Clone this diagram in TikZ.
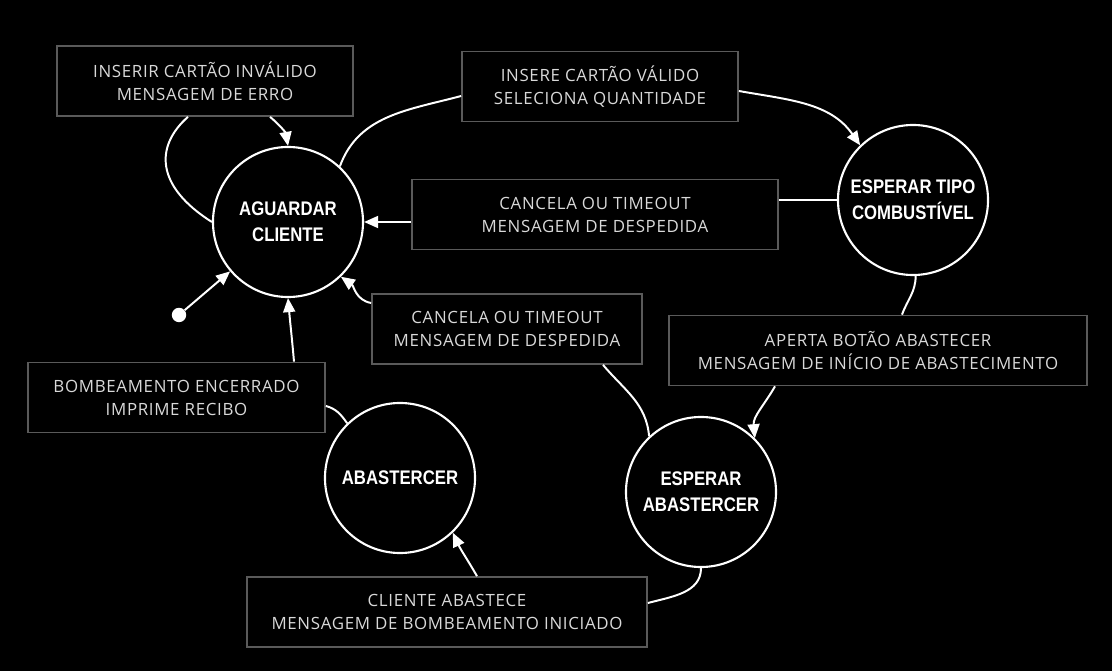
\documentclass[tikz,border=0pt]{standalone}
\usepackage{fontspec}
\setmainfont[LetterSpace=4]{Open Sans}
\newfontfamily\statefont[FakeStretch=0.85]{Liberation Sans}
\usetikzlibrary{calc,arrows.meta}
\definecolor{boxline}{HTML}{5A5A5A}
\definecolor{boxtext}{HTML}{D9D9D9}

\begin{document}
\begin{tikzpicture}[x=0.025cm,y=0.025cm,
    state/.style={circle,draw=white,line width=1.5pt,minimum size=3.75cm,inner sep=0pt,
      align=center,text=white,font=\statefont\bfseries\fontsize{14}{18.5}\selectfont},
    event/.style={rectangle,draw=boxline,line width=1.2pt,minimum height=1.75cm,inner sep=0pt,
      align=center,text=boxtext,font=\fontsize{12}{16.4}\selectfont},
    link/.style={draw=white,line width=1.4pt},
    arr/.style={link,-{Triangle[length=10pt,width=8.5pt]}}]

        % page, black
        \fill[black] (0,0) rectangle (1112,671);
        \useasboundingbox (0,0) rectangle (1112,671);

        % states
        \node[state] (ag) at (288,449) {AGUARDAR\\CLIENTE};
        \node[state] (esptipo) at (913,471) {ESPERAR TIPO\\COMBUSTÍVEL};
        \node[state] (abast) at (400,193) {ABASTERCER};
        \node[state] (espab) at (701,179) {ESPERAR\\ABASTERCER};
        \node[circle,fill=white,minimum size=0.36cm,inner sep=0pt] (start) at (179,356) {};

        % events
        \node[event,minimum width=7.4cm] (err) at (205,590) {INSERIR CARTÃO INVÁLIDO\\MENSAGEM DE ERRO};
        \node[event,minimum width=6.9cm] (valid) at (600,584.5) {INSERE CARTÃO VÁLIDO\\SELECIONA QUANTIDADE};
        \node[event,minimum width=9.15cm] (cancelA) at (595,456.5) {CANCELA OU TIMEOUT\\MENSAGEM DE DESPEDIDA};
        \node[event,minimum width=6.75cm] (cancelB) at (507,342) {CANCELA OU TIMEOUT\\MENSAGEM DE DESPEDIDA};
        \node[event,minimum width=10.45cm] (aperta) at (878,320.5) {APERTA BOTÃO ABASTECER\\MENSAGEM DE INÍCIO DE ABASTECIMENTO};
        \node[event,minimum width=7.425cm] (bomb) at (176.5,273.5) {BOMBEAMENTO ENCERRADO\\IMPRIME RECIBO};
        \node[event,minimum width=10cm] (cliente) at (447,59) {CLIENTE ABASTECE\\MENSAGEM DE BOMBEAMENTO INICIADO};

        % initial
        \draw[arr] (start) -- (ag);

        % invalid card, loop back
        \draw[link] (ag.180) .. controls (155,485) and (155,525) .. ($(err.south)+(-17,0)$);
        \draw[arr] ($(err.south)+(65,0)$) to[out=-40,in=100] (ag.90);

        % valid card
        \draw[link] (ag.47) to[out=70,in=195] ($(valid.west)+(0,-9.5)$);
        \draw[arr] ($(valid.east)+(0,-4.5)$) to[out=-10,in=125] (esptipo.134);

        % cancel from fuel type
        \draw[link] (esptipo.west) -- (esptipo.west -| cancelA.east);
        \draw[arr] (ag.east -| cancelA.west) -- (ag.east);

        % button pressed
        \draw[link] (esptipo.272) to[out=-90,in=70] ($(aperta.north)+(24,0)$);
        \draw[arr] ($(aperta.south)+(-103,0)$) to[out=-120,in=95] (espab.45);

        % cancel while waiting
        \draw[link] (espab.133) to[out=95,in=-50] ($(cancelB.south)+(96,0)$);
        \draw[arr] ($(cancelB.west)+(0,26)$) to[out=170,in=-35] (ag.-46);

        % pumping starts
        \draw[link] (espab.270) to[out=-90,in=15] ($(cliente.east)+(0,9)$);
        \draw[arr] ($(cliente.north)+(30,0)$) to[out=120,in=-65] (abast.-46);

        % pumping ends
        \draw[link] (abast.134) to[out=125,in=-15] ($(bomb.east)+(0,-8.5)$);
        \draw[arr] ($(bomb.north)+(117.5,0)$) to[out=95,in=-85] (ag.270);

    \end{tikzpicture}
\end{document}
